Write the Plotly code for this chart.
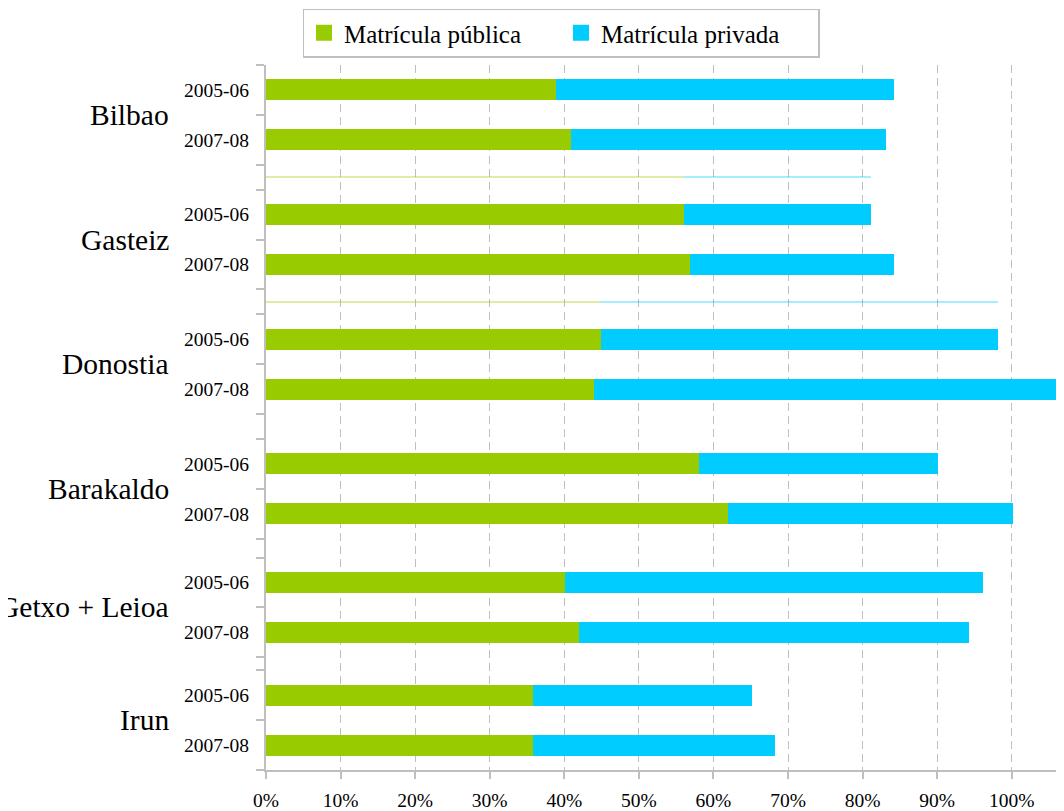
import plotly.graph_objects as go

# ---- data (percent of enrolment) ----
cities = ["Bilbao", "Gasteiz", "Donostia", "Barakaldo", "Getxo + Leioa", "Irun"]
periods = ["2005-06", "2007-08"]
public_2005 = [38.9, 56.0, 44.9, 58.0, 40.1, 35.8]
private_2005 = [45.3, 25.1, 53.2, 32.1, 56.1, 29.4]
public_2007 = [40.9, 56.9, 44.0, 61.9, 42.0, 35.8]
private_2007 = [42.2, 27.3, 70.0, 38.2, 52.2, 32.4]
series_names = ["Matrícula pública", "Matrícula privada"]
x_ticks = [0, 10, 20, 30, 40, 50, 60, 70, 80, 90, 100]
x_tick_labels = [f"{v}%" for v in x_ticks]

# ---- layout helpers (slot positions on a numeric y axis) ----
GAPS = [0.5, 0.5, 0.5, 0.38, 0.26, 0.0]
BAR_W = 0.42
GREEN = "#99CC00"
CYAN = "#00CCFF"
GRID = "#BFBFBF"
FONT = "Liberation Serif"

y_pos, y_lab, x_pub, x_priv, bounds, group_mid, gap_mid = [], [], [], [], [], [], []
start = 0.0
for i, c in enumerate(cities):
    bounds += [start, start + 1, start + 2]
    for j, p in enumerate(periods):
        y_pos.append(start + 0.5 + j)
        y_lab.append(p)
    x_pub += [public_2005[i], public_2007[i]]
    x_priv += [private_2005[i], private_2007[i]]
    group_mid.append(start + 1.0)
    gap_mid.append(start + 2 + GAPS[i] / 2)
    start += 2 + GAPS[i]
y_end = start

fig = go.Figure()
for name, xs, col in zip(series_names, [x_pub, x_priv], [GREEN, CYAN]):
    fig.add_trace(go.Bar(name=name, y=y_pos, x=xs, orientation="h", legendgroup=name,
                         width=BAR_W, marker=dict(color=col, line=dict(width=0)),
                         showlegend=False))
    # legend key (larger square swatch, like the original)
    fig.add_trace(go.Scatter(name=name, x=[None], y=[None], mode="markers", legendgroup=name,
                             marker=dict(symbol="square", size=16, color=col)))

# faint separator strokes seen in the gaps after the first two groups
for k in range(2):
    fig.add_trace(go.Bar(y=[gap_mid[k]], x=[public_2005[k + 1]], orientation="h", width=0.025,
                         marker=dict(color=GREEN, line=dict(width=0)), opacity=0.35,
                         showlegend=False, hoverinfo="skip"))
    fig.add_trace(go.Bar(y=[gap_mid[k]], x=[private_2005[k + 1]], orientation="h", width=0.025,
                         marker=dict(color=CYAN, line=dict(width=0)), opacity=0.35,
                         showlegend=False, hoverinfo="skip"))

# figure is drawn inside the page's 8px body margin
W, H = 1056, 803
L, R, T, B = 258, 0, 57, 41
pw = W - L - R
ph = H - T - B

# city labels (outer category level)
for c, ym in zip(cities, group_mid):
    fig.add_annotation(text=c, x=(163 - L) / pw, xref="paper", y=ym, yref="y",
                       xanchor="right", yanchor="middle", showarrow=False,
                       font=dict(family=FONT, size=29.5, color="black"))

fig.update_layout(
    barmode="stack",
    width=W, height=H,
    margin=dict(l=L, r=R, t=T, b=B, pad=0, autoexpand=False),
    paper_bgcolor="white", plot_bgcolor="white",
    font=dict(family=FONT, color="black"),
    bargap=0,
    legend=dict(orientation="h", xref="container", yref="container",
                x=553 / W, xanchor="center",
                y=1 - 25 / H, yanchor="middle",
                bordercolor=GRID, borderwidth=1.5, bgcolor="white",
                font=dict(family=FONT, size=25, color="black"),
                itemsizing="trace",
                traceorder="normal", entrywidth=212, entrywidthmode="pixels"),
    xaxis=dict(range=[0, 107], tickmode="array", tickvals=x_ticks, ticktext=x_tick_labels,
               automargin=False,
               showgrid=True, gridcolor=GRID, gridwidth=1, griddash="8px,5px",
               zeroline=False, showline=True, linecolor=GRID, linewidth=2,
               ticks="outside", ticklen=7, tickcolor=GRID, tickwidth=1.5,
               tickfont=dict(family=FONT, size=19.5, color="black"),
               ticklabelstandoff=5, fixedrange=True),
    yaxis=dict(range=[y_end, 0], tickmode="array", tickvals=y_pos, ticktext=y_lab,
               automargin=False,
               showgrid=False, zeroline=False, showline=True, linecolor=GRID, linewidth=2,
               ticks="", ticklabelstandoff=11,
               tickfont=dict(family=FONT, size=19.5, color="black"),
               minor=dict(tickmode="array", tickvals=bounds + [y_end], ticks="outside",
                          ticklen=8, tickcolor=GRID, tickwidth=1.5, showgrid=False),
               fixedrange=True),
)

fig.write_html("out.html")
